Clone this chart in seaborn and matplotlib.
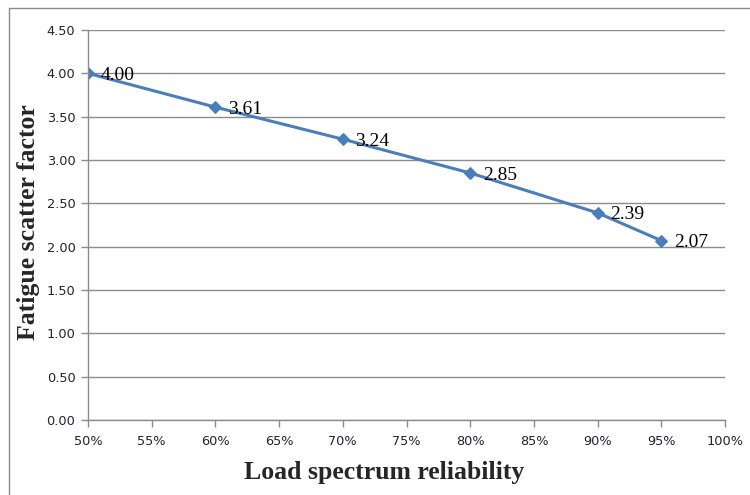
import matplotlib
matplotlib.use("Agg")
import matplotlib.pyplot as plt
import seaborn as sns
import pandas as pd
from matplotlib.ticker import FuncFormatter, MultipleLocator
from matplotlib.lines import Line2D

reliability = [50, 60, 70, 80, 90, 95]
scatter_factor = [4.00, 3.61, 3.24, 2.85, 2.39, 2.07]
x_label = "Load spectrum reliability"
y_label = "Fatigue scatter factor"

df = pd.DataFrame({"rel": reliability, "fsf": scatter_factor})

sns.set_theme(style="white")
plt.rcParams['font.family'] = ['DejaVu Sans']

fig = plt.figure(figsize=(7.5, 4.95), dpi=100)
ax = fig.add_axes([0.1173, 0.1515, 0.8494, 0.7879])

color = "#4a7ebb"
sns.lineplot(data=df, x="rel", y="fsf", ax=ax, color=color, linewidth=2.2,
             marker="D", markersize=6.5, markeredgecolor=color, markerfacecolor=color)

for xv, yv in zip(reliability, scatter_factor):
    ax.annotate(f"{yv:.2f}", (xv, yv), xytext=(9, -1.5), textcoords="offset points",
                ha="left", va="center", fontsize=14, family="Liberation Serif", color="black")

ax.set_xlim(50, 100)
ax.set_ylim(0, 4.5)
ax.xaxis.set_major_locator(MultipleLocator(5))
ax.yaxis.set_major_locator(MultipleLocator(0.5))
ax.xaxis.set_major_formatter(FuncFormatter(lambda v, p: f"{int(round(v))}%"))
ax.yaxis.set_major_formatter(FuncFormatter(lambda v, p: f"{v:.2f}"))
ax.grid(axis="y", color="#8c8c8c", linewidth=1)
ax.grid(axis="x", visible=False)
for s in ["top", "right"]:
    ax.spines[s].set_visible(False)
for s in ["left", "bottom"]:
    ax.spines[s].set_color("#8c8c8c")
    ax.spines[s].set_linewidth(1)
ax.tick_params(axis="both", which="major", direction="out", length=5, width=1,
               color="#8c8c8c", labelsize=9.3, labelcolor="#222233", left=True, bottom=True)
ax.tick_params(axis="x", pad=6)
ax.tick_params(axis="y", pad=4)

ax.set_xlabel(x_label, fontsize=18.5, fontweight="bold", family="Liberation Serif", labelpad=9)
ax.set_ylabel(y_label, fontsize=18.5, fontweight="bold", family="Liberation Serif", labelpad=5)
ax.xaxis.label.set_x(0.465)
ax.yaxis.label.set_y(0.507)

# outer frame: only top and left edges visible, as in the reference
fx0, fy1 = 8.5/750, 1 - 7.5/495
fig.add_artist(Line2D([fx0, 1], [fy1, fy1], transform=fig.transFigure, color="#8a8a8a", linewidth=1))
fig.add_artist(Line2D([fx0, fx0], [0, fy1], transform=fig.transFigure, color="#8a8a8a", linewidth=1))

fig.savefig("out.png", dpi=100)
